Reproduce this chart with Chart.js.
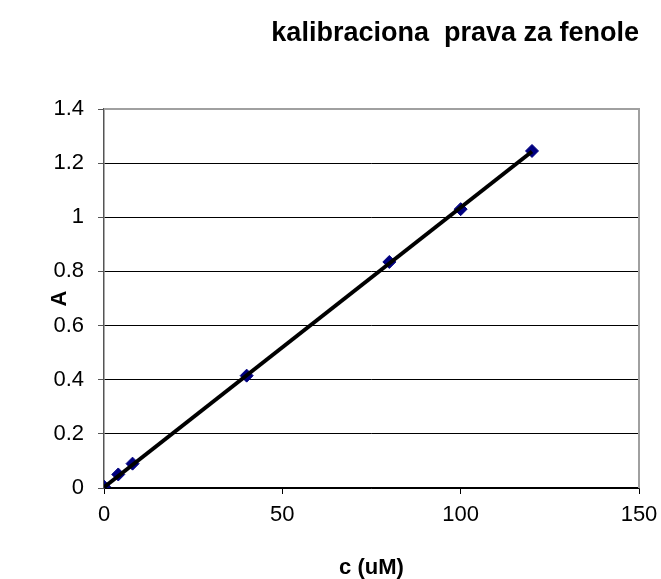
<!DOCTYPE html>
<html>
<head>
<meta charset="utf-8">
<title>kalibraciona prava za fenole</title>
<script src="https://cdn.jsdelivr.net/npm/chart.js@4.4.1/dist/chart.umd.min.js"></script>
<style>
  html, body { margin: 0; padding: 0; background: #fff; }
  #wrap { width: 661px; height: 579px; }
</style>
</head>
<body>
<div id="wrap"><canvas id="chart" width="661" height="579"></canvas></div>
<script>
// measured standards: concentration (uM) vs absorbance
const concentrations = [0, 4, 8, 40, 80, 100, 120];
const absorbance = [0.005, 0.05, 0.09, 0.415, 0.835, 1.03, 1.245];

// calibration line end points
const trendC = [0, 120];
const trendA = [0.003, 1.243];

const yTicks = [0, 0.2, 0.4, 0.6, 0.8, 1, 1.2, 1.4];
const xTicks = [0, 50, 100, 150];

const FONT = "'Liberation Sans', Arial, sans-serif";

const toPoints = (xs, ys) => xs.map((x, i) => ({ x, y: ys[i] }));

// gray frame on top and right of the plot
const plotFrame = {
    id: 'plotFrame',
    beforeDatasetsDraw(chart) {
        const { ctx, chartArea: a } = chart;
        ctx.save();
        ctx.strokeStyle = '#a0a0a0';
        ctx.lineWidth = 2;
        ctx.beginPath();
        ctx.moveTo(a.left, a.top);
        ctx.lineTo(a.right, a.top);
        ctx.lineTo(a.right, a.bottom);
        ctx.stroke();
        ctx.restore();
    }
};

new Chart(document.getElementById('chart'), {
    type: 'scatter',
    data: {
        datasets: [
            {
                label: 'trend',
                data: toPoints(trendC, trendA),
                showLine: true,
                borderColor: '#000',
                borderWidth: 4,
                pointRadius: 0,
                order: 0
            },
            {
                label: 'A',
                data: toPoints(concentrations, absorbance),
                pointStyle: 'rectRot',
                pointRadius: 6.5,
                pointBackgroundColor: '#000080',
                pointBorderColor: '#000080',
                pointBorderWidth: 1,
                showLine: false,
                order: 1
            }
        ]
    },
    options: {
        responsive: false,
        animation: false,
        layout: { padding: { left: 0, right: 22, top: 0, bottom: 0 } },
        plugins: {
            legend: { display: false },
            tooltip: { enabled: false },
            title: {
                display: true,
                text: 'kalibraciona  prava za fenole',
                align: 'end',
                color: '#000',
                font: { family: FONT, size: 27, weight: 'bold' },
                padding: { top: 17, bottom: 59.6 }
            }
        },
        scales: {
            x: {
                type: 'linear',
                min: 0,
                max: 150,
                afterBuildTicks: s => { s.ticks = xTicks.map(v => ({ value: v })); },
                afterFit: s => {
                    s.height = 91;
                    // keep the plot edges fixed regardless of label overflow
                    s.paddingLeft = 0;
                    s.paddingRight = 0;
                },
                grid: {
                    drawOnChartArea: false,
                    drawTicks: true,
                    tickLength: 6,
                    tickColor: '#000'
                },
                border: { color: '#000', width: 1.5 },
                ticks: {
                    color: '#000',
                    padding: 8,
                    maxRotation: 0,
                    font: { family: FONT, size: 22 }
                },
                title: {
                    display: true,
                    text: 'c (uM)',
                    color: '#000',
                    font: { family: FONT, size: 22, weight: 'bold' },
                    padding: { top: 4, bottom: -2 }
                }
            },
            y: {
                type: 'linear',
                min: 0,
                max: 1.4,
                afterBuildTicks: s => { s.ticks = yTicks.map(v => ({ value: v })); },
                afterFit: s => { s.width = 104; },
                grid: {
                    color: c => (c.tick && c.tick.value === 1.4 ? 'rgba(0,0,0,0)' : '#000'),
                    lineWidth: 1,
                    drawTicks: true,
                    tickLength: 6,
                    tickColor: '#555'
                },
                border: { color: '#555', width: 1.5 },
                ticks: {
                    color: '#000',
                    padding: 14,
                    font: { family: FONT, size: 22 },
                    callback: v => String(Math.round(v * 10) / 10)
                },
                title: {
                    display: true,
                    text: 'A',
                    color: '#000',
                    font: { family: FONT, size: 22, weight: 'bold' },
                    padding: { top: 47, bottom: 4 }
                }
            }
        }
    },
    plugins: [plotFrame]
});
</script>
</body>
</html>
